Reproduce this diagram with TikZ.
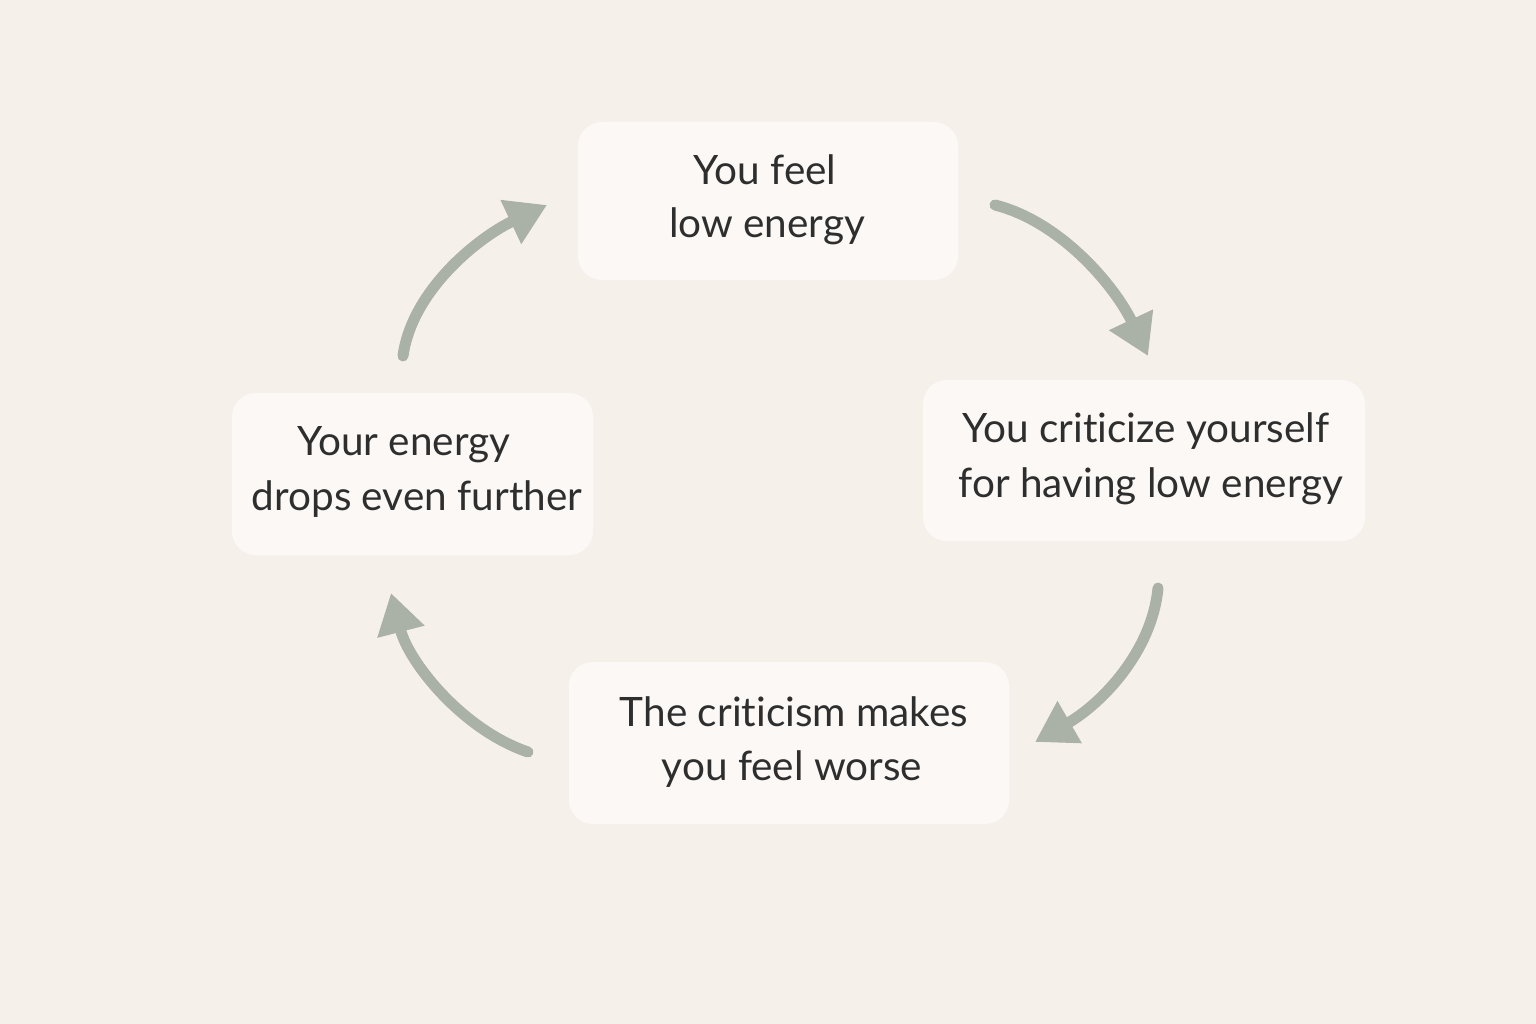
\documentclass[tikz,border=0pt]{standalone}
\usepackage{fontspec}
\setmainfont{Lato}[Ligatures={NoCommon,NoRequired,NoContextual}]
\usetikzlibrary{arrows.meta}
\definecolor{bgc}{HTML}{F6F0EB}
\definecolor{boxc}{HTML}{FBF8F5}
\definecolor{arrc}{HTML}{AAB1A7}
\definecolor{txtc}{HTML}{2E2E2E}
\tikzset{
  cyclebox/.style={fill=boxc, rounded corners=24pt, draw=none},
  linetxt/.style={text=txtc, font=\fontsize{40.5}{48}\selectfont, inner sep=0pt, anchor=base},
  cyclearrow/.style={draw=arrc, line width=11pt, line cap=round,
    -{Triangle[length=40pt, width=46pt]}},
}
\begin{document}
\begin{tikzpicture}[x=1pt, y=-1pt]
\useasboundingbox (0,0) rectangle (1536,1024);
\fill[bgc] (0,0) rectangle (1536,1024);
% boxes
\node[cyclebox, minimum width=380pt, minimum height=158pt] (top) at (768,201) {};
\node[cyclebox, minimum width=442pt, minimum height=161pt] (right) at (1144,460.5) {};
\node[cyclebox, minimum width=440pt, minimum height=162pt] (bottom) at (789,743) {};
\node[cyclebox, minimum width=361pt, minimum height=162pt] (left) at (412.5,474) {};
% texts
\node[linetxt] (t1) at (765,185) {You feel};
\node[linetxt] (t2) at (767,238) {low energy};
\node[linetxt] (r1) at (1146,442) {You criticize yourself};
\node[linetxt] (r2) at (1151,497) {for having low energy};
\node[linetxt] (b1) at (794,726) {The criticism makes};
\node[linetxt] (b2) at (792,780) {you feel worse};
\node[linetxt] (l1) at (404,455) {Your energy};
\node[linetxt] (l2) at (417,510) {drops even further};
% arrow end points
\coordinate (a1s) at (403,356);
\coordinate (a1e) at (547,205);
\coordinate (a2s) at (995,205);
\coordinate (a2e) at (1148,356);
\coordinate (a3s) at (1158,588);
\coordinate (a3e) at (1035,742);
\coordinate (a4s) at (528,752);
\coordinate (a4e) at (391,593);
\draw[cyclearrow] (a1s) .. controls (412,290) and (479,237) .. (a1e);
\draw[cyclearrow] (a2s) .. controls (1062,222) and (1116,288) .. (a2e);
\draw[cyclearrow] (a3s) .. controls (1152,652) and (1101,704) .. (a3e);
\draw[cyclearrow] (a4s) .. controls (463,730) and (409,663) .. (a4e);
\end{tikzpicture}
\end{document}
